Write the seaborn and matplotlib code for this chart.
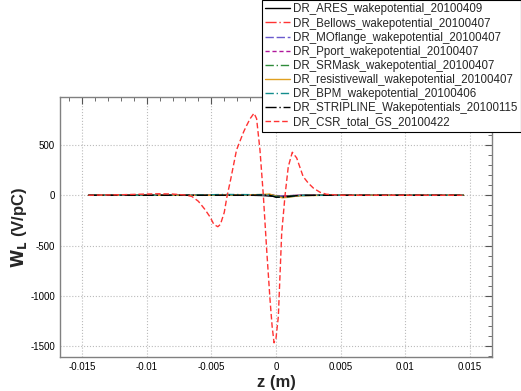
import numpy as np
import pandas as pd
import matplotlib
matplotlib.use("Agg")
import matplotlib.pyplot as plt
import seaborn as sns
from matplotlib.ticker import MultipleLocator

# ---- data ----
names = [
    "DR_ARES_wakepotential_20100409",
    "DR_Bellows_wakepotential_20100407",
    "DR_MOflange_wakepotential_20100407",
    "DR_Pport_wakepotential_20100407",
    "DR_SRMask_wakepotential_20100407",
    "DR_resistivewall_wakepotential_20100407",
    "DR_BPM_wakepotential_20100406",
    "DR_STRIPLINE_Wakepotentials_20100115",
    "DR_CSR_total_GS_20100422",
]

z_small = [-0.0145, -0.006, -0.004, -0.002, -0.001, -0.0005, 0.0, 0.0005, 0.001, 0.0015, 0.002, 0.004, 0.0145]
w_ares = [0, 0, 0, 0, -3, -8, -12, -10, -6, -3, -1, 0, 0]
w_bellows = [0, 0, 0, 2, 5, 8, -5, -10, -6, -3, -1, 0, 0]
w_moflange = [0, 0, 0, 1, 3, 5, -4, -8, -5, -2, -1, 0, 0]
w_pport = [0, 0, 0, 1, 2, 4, -3, -6, -4, -2, 0, 0, 0]
w_srmask = [0, 0, 3, 5, 6, 4, -6, -12, -8, -4, -1, 0, 0]
w_reswall = [0, 0, 2, 4, 8, 12, -10, -25, -20, -10, -4, 0, 0]
w_bpm = [0, 2, 8, 6, 6, 3, -15, -22, -15, -8, -2, 0, 0]
w_stripline = [0, 0, 0, 0, 2, 0, -20, -18, -12, -5, -1, 0, 0]

z_csr = [-0.0145, -0.012, -0.010, -0.009, -0.008, -0.007, -0.0065, -0.006, -0.0055,
         -0.0051, -0.0048, -0.0045, -0.0043, -0.004, -0.0038, -0.0035, -0.00305,
         -0.0025, -0.00228, -0.002, -0.0017, -0.0015, -0.00124, -0.00098, -0.00072,
         -0.00046, -0.0003, -0.00015, 0.0, 0.00018, 0.00044, 0.0007, 0.00095,
         0.00126, 0.0016, 0.0021, 0.0025, 0.0029, 0.0034, 0.0039, 0.005, 0.0145]
w_csr = [0, 5, 12, 15, 12, 2, -12, -60, -140,
         -215, -290, -312, -290, -170, -20, 160, 450,
         630, 690, 760, 814, 760, 450, 0, -543,
         -1040, -1300, -1464, -1420, -1205, -375, 0, 284,
         427, 370, 185, 120, 70, 30, 10, 0, 0]

series_z = [z_small] * 8 + [z_csr]
series_w = [w_ares, w_bellows, w_moflange, w_pport, w_srmask, w_reswall, w_bpm, w_stripline, w_csr]

colors = ["#000000", "#ff3333", "#6a5acd", "#b0179b", "#2e8b3a", "#e0a020",
          "#138d8d", "#000000", "#ff3333"]
dashes = ["", (8, 2, 1, 2), (6, 2), (3, 2), (6, 2, 1, 2), "", (6, 2, 1, 2), (8, 2, 1, 2), (4, 2)]

rows = []
for n, zz, ww in zip(names, series_z, series_w):
    for a, b in zip(zz, ww):
        rows.append((n, a, b))
df = pd.DataFrame(rows, columns=["series", "z", "W"])

sns.set_style("white")
plt.rcParams["font.family"] = ["Liberation Sans", "DejaVu Sans"]

fig = plt.figure(figsize=(5.21, 3.91), dpi=100)
ax = fig.add_axes([60 / 521, 1 - 357 / 391, 432 / 521, 260 / 391])

sns.lineplot(data=df, x="z", y="W", hue="series", style="series",
             palette=dict(zip(names, colors)), dashes=dict(zip(names, dashes)),
             hue_order=names, style_order=names,
             estimator=None, sort=False, linewidth=1.0, ax=ax, legend=False)

ax.set_xlim(-0.0167, 0.0167)
ax.set_ylim(-1605, 975)
ax.xaxis.set_minor_locator(MultipleLocator(0.001))
ax.yaxis.set_minor_locator(MultipleLocator(100))
ax.set_xticks([-0.015, -0.01, -0.005, 0, 0.005, 0.01, 0.015])
ax.set_xticklabels(["-0.015", "-0.01", "-0.005", "0", "0.005", "0.01", "0.015"])
ax.set_yticks([-1500, -1000, -500, 0, 500])
ax.set_yticklabels(["-1500", "-1000", "-500", "0", "500"])
ax.tick_params(which="both", direction="in", top=True, right=True, labelsize=7,
               colors="#555555", labelcolor="black")
ax.tick_params(which="major", length=5, width=0.8)
ax.tick_params(which="minor", length=3, width=0.6)
ax.grid(True, which="major", linestyle=":", color="#bbbbbb", linewidth=0.8)
for s in ax.spines.values():
    s.set_color("#808080")
    s.set_linewidth(1.0)

ax.set_xlabel("z (m)", fontsize=12, fontweight="bold", labelpad=2)
ax.set_ylabel(r"$\mathbf{W_L}$ (V/pC)", fontsize=12, fontweight="bold", labelpad=1)

handles = [matplotlib.lines.Line2D([], [], color=c, linewidth=1.0,
                                   linestyle=(0, d) if d else "-")
           for c, d in zip(colors, dashes)]
leg = fig.legend(handles, names, loc="upper right", bbox_to_anchor=(1.0, 1.0),
                 fontsize=8.3, frameon=True, fancybox=False, edgecolor="black",
                 framealpha=1, labelspacing=0.18, handlelength=2.1,
                 handletextpad=0.3, borderpad=0.3, borderaxespad=0.0)
leg.get_frame().set_linewidth(0.8)

fig.savefig("out.png", dpi=100)
